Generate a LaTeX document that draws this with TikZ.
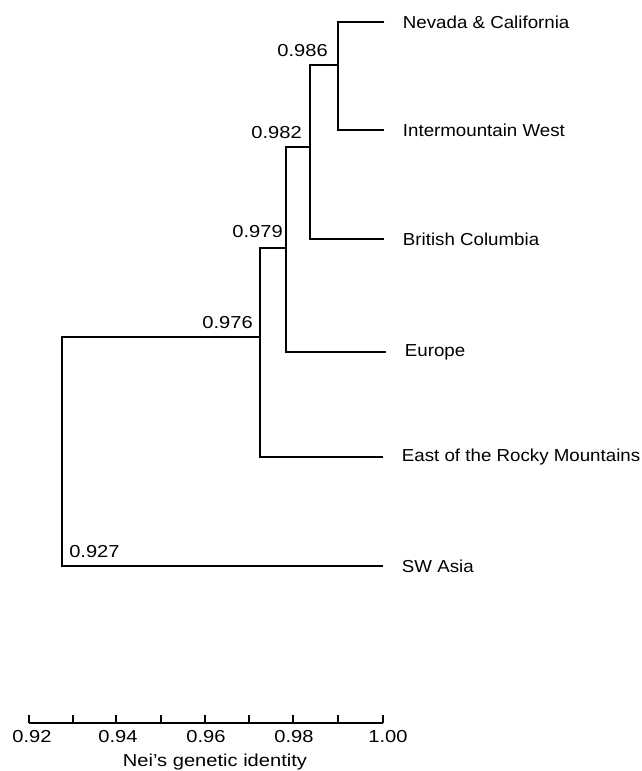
\documentclass[tikz,border=0pt]{standalone}
\usepackage{fontspec}
\setmainfont{Liberation Sans}
\newfontfamily\lblfont[FakeStretch=1.08]{Liberation Sans}
\newfontfamily\numfont[FakeStretch=1.16]{Liberation Sans}
\begin{document}
\begin{tikzpicture}[x=0.75pt,y=-0.75pt,
  branch/.style={line width=1.3pt,line join=miter},
  leaf/.style={anchor=west,inner xsep=14pt,inner ysep=0pt,font=\lblfont\fontsize{13}{16}\selectfont},
  val/.style={inner sep=0pt,font=\numfont\fontsize{13}{16}\selectfont},
  axlab/.style={inner sep=0pt,font=\numfont\fontsize{13}{16}\selectfont}]
\useasboundingbox (0,0) rectangle (642,771);
% leaves
\node[leaf] (nev) at (384,22) {Nevada \& California};
\node[leaf] (imw) at (384,130) {Intermountain West};
\node[leaf] (bc) at (384,239) {British Columbia};
\node[leaf] (eur) at (386,352) {Europe};
\node[leaf] (east) at (383,457) {East of the Rocky Mountains};
\node[leaf] (sw) at (383,566) {SW Asia};
% junctions
\coordinate (j986) at (338,65);
\coordinate (j982) at (310,147);
\coordinate (j979) at (286,248);
\coordinate (j976) at (260,337);
\coordinate (j927) at (62,451);
% branches
\draw[branch] (nev.west) -| (j986) |- (imw.west);
\draw[branch] (j986) -| (j982) |- (bc.west);
\draw[branch] (j982) -| (j979) |- (eur.west);
\draw[branch] (j979) -| (j976) |- (east.west);
\draw[branch] (j976) -| (j927) |- (sw.west);
% values
\node[val,anchor=east] (v986) at (328,51) {0.986};
\node[val,anchor=east] (v982) at (302,133) {0.982};
\node[val,anchor=east] (v979) at (283,232) {0.979};
\node[val,anchor=east] (v976) at (253,323) {0.976};
\node[val,anchor=west] (v927) at (69,552) {0.927};
% scale
\draw[branch] (29,723) -- (383,723);
\foreach \x in {29,73,116,161,205,249,293,338,383}
  \draw[branch] (\x,723) -- (\x,715);
\node[axlab] (a92) at (32,737) {0.92};
\node[axlab] (a94) at (118,737) {0.94};
\node[axlab] (a96) at (206,737) {0.96};
\node[axlab] (a98) at (294,737) {0.98};
\node[axlab] (a100) at (388,737) {1.00};
\node[axlab,anchor=base] (axt) at (215,766) {Nei’s genetic identity};
\end{tikzpicture}
\end{document}
